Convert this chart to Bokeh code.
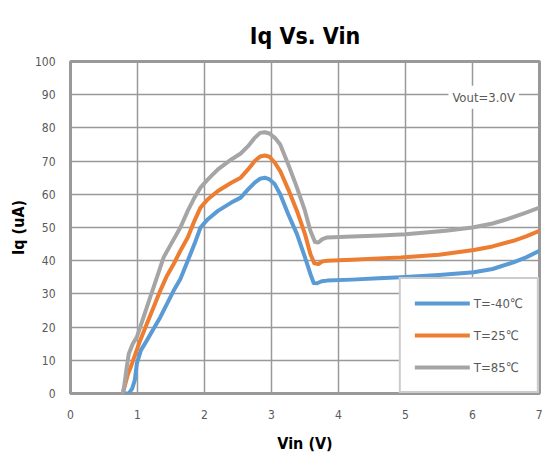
from bokeh.plotting import figure
from bokeh.models import Legend, LegendItem, Label, FixedTicker, Range1d
from bokeh.embed import file_html
from bokeh.resources import INLINE

# ---- data ----
v_m40 = [0.80, 0.87, 0.92, 0.96, 0.99, 1.05, 1.14, 1.24, 1.34, 1.44, 1.54, 1.64, 1.75, 1.85, 1.94,
         2.05, 2.2, 2.4, 2.54, 2.65, 2.75, 2.83, 2.9, 2.97, 3.05, 3.13, 3.25, 3.38, 3.5, 3.58,
         3.63, 3.68, 3.75, 3.83, 4.2, 4.6, 4.93, 5.5, 6.02, 6.3, 6.61, 6.8, 7.0]
i_m40 = [0, 0, 1.5, 4, 9, 13, 16, 19.5, 23, 27, 31, 34.5, 40, 45, 50,
         52.5, 55, 57.5, 59, 61.5, 63.5, 64.7, 65, 64.5, 63, 60, 54, 48, 41, 36,
         33.3, 33.2, 33.8, 34, 34.3, 34.7, 35, 35.7, 36.5, 37.5, 39.5, 41, 43]

v_25 = [0.78, 0.82, 0.86, 0.9, 0.97, 1.04, 1.14, 1.24, 1.34, 1.44, 1.54, 1.64, 1.75, 1.85, 1.94,
        2.05, 2.2, 2.4, 2.54, 2.65, 2.75, 2.83, 2.9, 2.97, 3.05, 3.13, 3.25, 3.38, 3.5, 3.58,
        3.64, 3.7, 3.76, 3.83, 4.2, 4.6, 4.93, 5.5, 6.02, 6.3, 6.61, 6.8, 7.0]
i_25 = [0, 3, 6, 8, 12, 16, 21, 26, 31, 35.5, 39, 43, 47, 52, 56,
        58.5, 61, 63.5, 65, 67.5, 70, 71.4, 71.7, 71.3, 69.5, 67, 61.5, 55, 48, 42,
        39.2, 39, 39.8, 40, 40.3, 40.7, 41, 41.8, 43.2, 44.3, 46, 47.3, 49]

v_85 = [0.78, 0.8, 0.84, 0.87, 0.93, 0.99, 1.09, 1.19, 1.29, 1.39, 1.5, 1.64, 1.75, 1.85, 1.94,
        2.05, 2.2, 2.4, 2.54, 2.65, 2.75, 2.83, 2.9, 2.97, 3.05, 3.13, 3.25, 3.38, 3.5, 3.58,
        3.65, 3.7, 3.76, 3.83, 4.2, 4.63, 5.0, 5.6, 6.0, 6.3, 6.5, 6.8, 7.0]
i_85 = [0, 2, 8, 12, 15, 17, 23, 29, 35, 41, 45, 50, 55, 59, 62,
        64.5, 67.5, 70.5, 72.3, 74.5, 77, 78.5, 78.7, 78.3, 77, 75, 69, 62, 55, 49,
        45.6, 45.5, 46.5, 47, 47.3, 47.6, 48, 49, 50, 51.2, 52.4, 54.5, 56]

series_names = ["T=-40\u2103", "T=25\u2103", "T=85\u2103"]
x_ticks = [0, 1, 2, 3, 4, 5, 6, 7]
y_ticks = [0, 10, 20, 30, 40, 50, 60, 70, 80, 90, 100]
note_text = "Vout=3.0V"

FONT = "'DejaVu Sans Condensed', 'Open Sans'"

p = figure(width=542, height=455, output_backend="svg", toolbar_location=None,
           x_range=Range1d(0, 7), y_range=Range1d(0, 100),
           min_border_left=70, min_border_right=3, min_border_top=61, min_border_bottom=62,
           title="Iq Vs. Vin")
p.title.align = "center"
p.title.text_font = FONT
p.title.text_font_size = "23px"
p.title.text_font_style = "bold"
p.title.text_color = "#000000"
p.title.standoff = 26

p.outline_line_color = "#999999"
p.outline_line_width = 3
p.background_fill_color = "white"
p.border_fill_color = "white"

p.xaxis.ticker = FixedTicker(ticks=x_ticks)
p.yaxis.ticker = FixedTicker(ticks=y_ticks)
for ax in (p.xaxis[0], p.yaxis[0]):
    ax.axis_line_color = None
    ax.major_tick_line_color = None
    ax.minor_tick_line_color = None
    ax.major_label_text_font = FONT
    ax.major_label_text_font_size = "12px"
    ax.major_label_text_color = "#595959"
    ax.axis_label_text_font = FONT
    ax.axis_label_text_font_size = "16px"
    ax.axis_label_text_font_style = "bold"
    ax.axis_label_text_color = "#000000"
p.xaxis.major_label_standoff = 10
p.yaxis.major_label_standoff = 9
p.xaxis.axis_label = "Vin (V)"
p.yaxis.axis_label = "Iq (uA)"
p.xaxis.axis_label_standoff = 12
p.yaxis.axis_label_standoff = 4

p.xgrid.grid_line_color = "#999999"
p.ygrid.grid_line_color = "#999999"
p.xgrid.grid_line_width = 1.5
p.ygrid.grid_line_width = 1.5

colors = ["#5B9BD5", "#ED7D31", "#A5A5A5"]
data = [(v_m40, i_m40), (v_25, i_25), (v_85, i_85)]
renderers = []
for (xs, ys), c in zip(data, colors):
    r = p.line(xs, ys, line_color=c, line_width=4, line_join="round", line_cap="round")
    renderers.append(r)

legend = Legend(items=[LegendItem(label=n, renderers=[r]) for n, r in zip(series_names, renderers)],
                location="bottom_right", margin=0, padding=14, spacing=12,
                glyph_width=55, glyph_height=20, label_standoff=4, label_width=40,
                label_text_font=FONT, label_text_font_size="13px", label_text_color="#595959",
                border_line_color="#999999", border_line_width=2,
                background_fill_color="white", background_fill_alpha=1.0)
p.add_layout(legend, "center")

note = Label(x=5.64, y=89.2, text=note_text, text_baseline="middle", text_align="left",
             text_font=FONT, text_font_size="13px", text_color="#595959",
             background_fill_color="white", background_fill_alpha=1.0, padding=4)
p.add_layout(note)

open("out.html", "w").write(file_html(p, INLINE))
